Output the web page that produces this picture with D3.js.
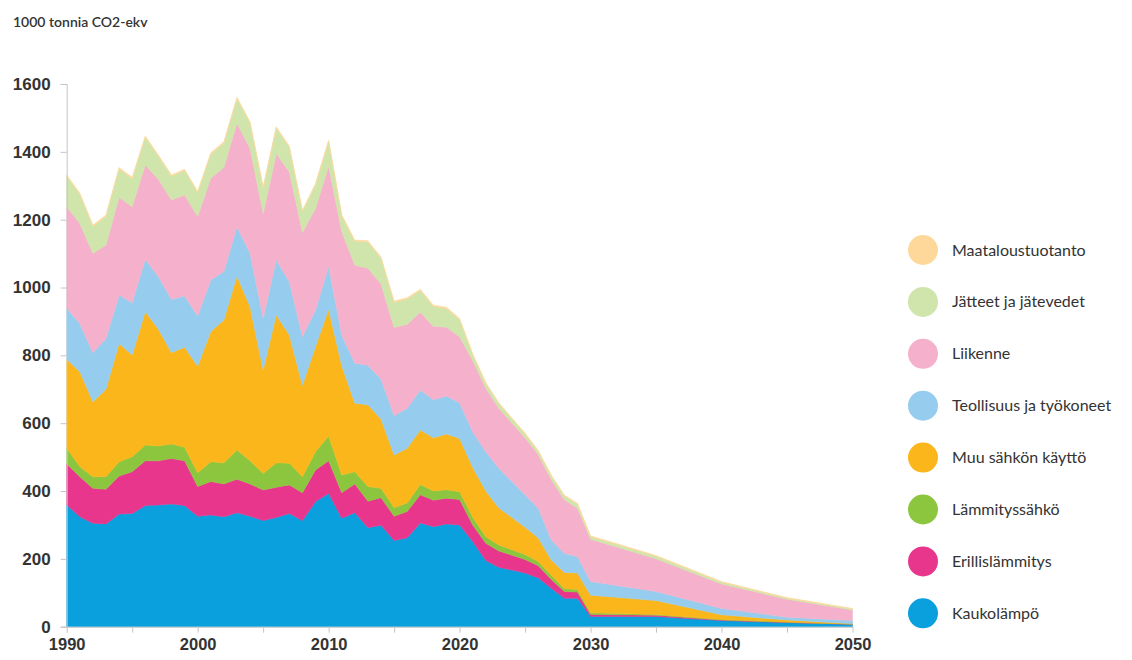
<!DOCTYPE html>
<html>
<head>
<meta charset="utf-8">
<script src="https://cdn.jsdelivr.net/npm/d3@7"></script>
<style>
  body { margin: 0; background: #fff; }
  svg { font-family: Lato, "Open Sans", sans-serif; }
</style>
</head>
<body>
<svg id="chart" width="1132" height="660"></svg>
<script>
const years = [1990, 1991, 1992, 1993, 1994, 1995, 1996, 1997, 1998, 1999,
  2000, 2001, 2002, 2003, 2004, 2005, 2006, 2007, 2008, 2009,
  2010, 2011, 2012, 2013, 2014, 2015, 2016, 2017, 2018, 2019,
  2020, 2021, 2022, 2023, 2024, 2025, 2026, 2027, 2028, 2029,
  2030, 2035, 2040, 2045, 2050]

// series, bottom to top (1000 t CO2-ekv)
const kaukolampo = [359, 324, 305, 303, 332, 334, 357, 359, 362, 357,
  326, 329, 324, 336, 326, 313, 322, 334, 313, 369,
  393, 320, 336, 292, 299, 254, 262, 306, 295, 303,
  300, 251, 195, 175, 167, 158, 144, 113, 84, 84,
  30, 30, 18, 12, 7]
const erillislammitys = [121, 118, 103, 102, 112, 123, 132, 130, 134, 132,
  87, 99, 97, 99, 95, 90, 89, 84, 82, 93,
  96, 75, 85, 78, 81, 72, 78, 83, 78, 76,
  75, 49, 51, 48, 44, 40, 36, 26, 20, 18,
  6, 4, 2, 1, 0.5]
const lammityssahko = [46, 30, 34, 37, 42, 44, 47, 44, 43, 40,
  41, 58, 62, 86, 68, 49, 72, 64, 47, 54,
  73, 52, 36, 43, 28, 25, 25, 30, 27, 25,
  23, 23, 19, 18, 16, 15, 12, 13, 8, 8,
  5, 2, 1, 1, 0.5]
const muuSahko = [262, 280, 221, 258, 349, 300, 393, 344, 269, 295,
  314, 384, 421, 513, 454, 305, 436, 378, 270, 310,
  374, 323, 202, 241, 204, 155, 161, 161, 157, 164,
  157, 147, 135, 109, 95, 80, 70, 45, 48, 48,
  52, 41, 14, 6, 1]
const teollisuus = [151, 142, 145, 150, 143, 154, 154, 155, 157, 151,
  148, 152, 143, 145, 158, 152, 162, 157, 143, 108,
  127, 90, 118, 117, 118, 116, 118, 118, 112, 112,
  105, 105, 116, 117, 106, 96, 87, 59, 56, 49,
  40, 27, 19, 8, 9]
const liikenne = [299, 295, 293, 275, 288, 283, 278, 287, 293, 298,
  293, 300, 307, 305, 309, 309, 313, 324, 307, 299,
  295, 305, 289, 286, 280, 260, 248, 229, 217, 203,
  195, 210, 187, 176, 172, 168, 159, 177, 158, 142,
  125, 96, 72, 53, 31]
const jatteet = [90, 86, 79, 85, 84, 83, 82, 68, 70, 72,
  71, 71, 72, 73, 75, 75, 76, 72, 62, 70,
  73, 46, 70, 77, 76, 74, 74, 64, 58, 55,
  50, 17, 14, 14, 12, 11, 9, 11, 11, 12,
  7, 8, 5, 3, 3]
const maatalous = [4, 4, 4, 4, 4, 4, 4, 4, 4, 4,
  4, 4, 4, 4, 4, 4, 4, 4, 4, 4,
  4, 4, 4, 4, 4, 4, 4, 4, 4, 4,
  4, 3, 3, 3, 3, 3, 3, 3, 3, 3,
  3, 2, 2, 2, 2]

const seriesNames = ["Kaukolämpö", "Erillislämmitys", "Lämmityssähkö", "Muu sähkön käyttö",
  "Teollisuus ja työkoneet", "Liikenne", "Jätteet ja jätevedet", "Maataloustuotanto"]
const seriesValues = [kaukolampo, erillislammitys, lammityssahko, muuSahko,
  teollisuus, liikenne, jatteet, maatalous]
const colors = ["#0a9fdd", "#e9368d", "#8cc63f", "#fbb61b",
  "#96cdee", "#f5b1cb", "#cfe5ab", "#fdd89a"]

const yTicks = [0, 200, 400, 600, 800, 1000, 1200, 1400, 1600]
const xTicks = [1990, 1995, 2000, 2005, 2010, 2015, 2020, 2025, 2030, 2035, 2040, 2045, 2050]
const xLabels = [1990, 2000, 2010, 2020, 2030, 2040, 2050]

const svg = d3.select("#chart")
const plotLeft = 66.7, plotRight = 852.5, plotTop = 84, plotBottom = 626.7
const axisColor = "#c4c4c4"
const textColor = "#333"

const x = d3.scaleLinear().domain([1990, 2050]).range([plotLeft, plotRight])
const y = d3.scaleLinear().domain([0, 1600]).range([plotBottom, plotTop])

// rows for the stack
const rows = years.map((yr, i) => {
  const row = { year: yr }
  seriesNames.forEach((name, s) => { row[name] = seriesValues[s][i] })
  return row
})

const stacked = d3.stack().keys(seriesNames)(rows)

const area = d3.area()
  .x(d => x(d.data.year))
  .y0(d => y(d[0]))
  .y1(d => y(d[1]))

svg.append("g")
  .selectAll("path")
  .data(stacked)
  .join("path")
  .attr("fill", (d, i) => colors[i])
  .attr("stroke", (d, i) => colors[i])
  .attr("stroke-width", 0.5)
  .attr("d", area)

// y axis
const yAxis = svg.append("g")
  .attr("transform", `translate(${plotLeft},0)`)
  .call(d3.axisLeft(y).tickValues(yTicks).tickSize(6).tickPadding(10).tickFormat(d3.format("d")))
yAxis.select(".domain").attr("stroke", axisColor)
yAxis.selectAll(".tick line").attr("stroke", axisColor)
yAxis.selectAll(".tick text")
  .attr("fill", textColor)
  .style("font-size", "17px")
  .style("font-weight", 600)

// x axis
const xAxis = svg.append("g")
  .attr("transform", `translate(0,${plotBottom})`)
  .call(d3.axisBottom(x).tickValues(xTicks).tickSize(6).tickSizeOuter(0).tickPadding(6)
    .tickFormat(d => xLabels.includes(d) ? d : ""))
xAxis.select(".domain").attr("stroke", axisColor)
xAxis.selectAll(".tick line").attr("stroke", axisColor)
xAxis.selectAll(".tick text")
  .attr("fill", textColor)
  .style("font-size", "16.5px")
  .style("font-weight", 700)

// unit title
svg.append("text")
  .attr("x", 13)
  .attr("y", 27)
  .attr("fill", textColor)
  .style("font-size", "14px")
  .style("font-weight", 600)
  .text("1000 tonnia CO2-ekv")

// legend, top item first
const legendItems = seriesNames.map((name, i) => ({ name: name, color: colors[i] })).reverse()
const legend = svg.append("g")
  .selectAll("g")
  .data(legendItems)
  .join("g")
  .attr("transform", (d, i) => `translate(923,${250 + i * 51.9})`)

legend.append("circle")
  .attr("r", 15)
  .attr("fill", d => d.color)

legend.append("text")
  .attr("x", 29)
  .attr("y", 5.5)
  .attr("fill", textColor)
  .style("font-size", "16px")
  .text(d => d.name)
</script>
</body>
</html>
